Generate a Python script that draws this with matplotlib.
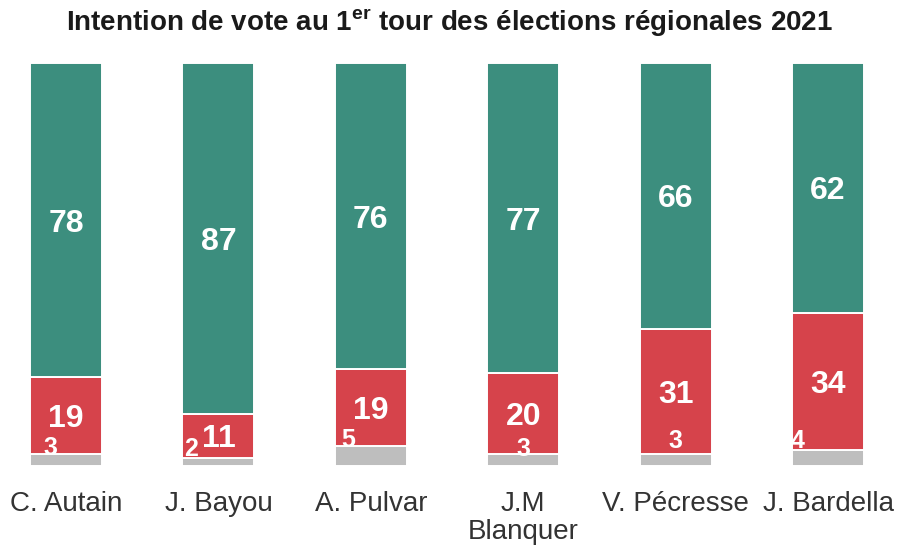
import numpy as np
import matplotlib.pyplot as plt

plt.rcParams['font.family'] = ['Liberation Sans', 'DejaVu Sans']
plt.rcParams['mathtext.fontset'] = 'custom'
plt.rcParams['mathtext.rm'] = 'Liberation Sans:bold'

candidats = ["C. Autain", "J. Bayou", "A. Pulvar", "J.M\nBlanquer", "V. Pécresse", "J. Bardella"]
gris = [3, 2, 5, 3, 3, 4]
rouge = [19, 11, 19, 20, 31, 34]
vert = [78, 87, 76, 77, 66, 62]

c_gris = "#bebebe"
c_rouge = "#d6434b"
c_vert = "#3c8e7e"

# petits décalages des étiquettes grises (comme sur l'original)
dx_gris = [-0.105, -0.18, -0.15, 0.0, 0.0, -0.2]
dy_gris = [3.0, 3.2, 3.9, 2.7, 4.6, 4.1]

fig = plt.figure(figsize=(8.99, 5.49), dpi=100)
w = 0.472
ax = fig.add_axes([30 / 899, (549 - 466) / 549, (864 - 30) / 899, (466 - 63) / 549])
x = np.arange(len(candidats))
g = np.array(gris)
r = np.array(rouge)
v = np.array(vert)

ax.bar(x, g, width=w, color=c_gris, edgecolor="white", linewidth=1.4)
ax.bar(x, r, bottom=g, width=w, color=c_rouge, edgecolor="white", linewidth=1.4)
ax.bar(x, v, bottom=g + r, width=w, color=c_vert, edgecolor="white", linewidth=1.4)

for i in x:
    ax.text(i, g[i] + r[i] + v[i] / 2, str(v[i]), ha="center", va="center_baseline",
            color="white", fontsize=23, fontweight="bold")
    ax.text(i, g[i] + r[i] / 2, str(r[i]), ha="center", va="center_baseline",
            color="white", fontsize=23, fontweight="bold")
    ax.text(i + dx_gris[i], g[i] / 2 + dy_gris[i], str(g[i]), ha="center", va="center",
            color="white", fontsize=18, fontweight="bold")

ax.set_xlim(-w / 2, len(candidats) - 1 + w / 2)
ax.set_ylim(0, 100)
ax.set_xticks(x)
ax.set_xticklabels(candidats, fontsize=20, color="#333333", linespacing=1.12)
ax.tick_params(axis="x", length=0, pad=18)
ax.set_yticks([])
for s in ax.spines.values():
    s.set_visible(False)

fig.text(0.5, 0.958, r"Intention de vote au 1$^{\mathregular{er}}$ tour des élections régionales 2021",
         ha="center", va="center", fontsize=20, fontweight="bold", color="#1a1a1a")

fig.savefig("out.png", dpi=100)
